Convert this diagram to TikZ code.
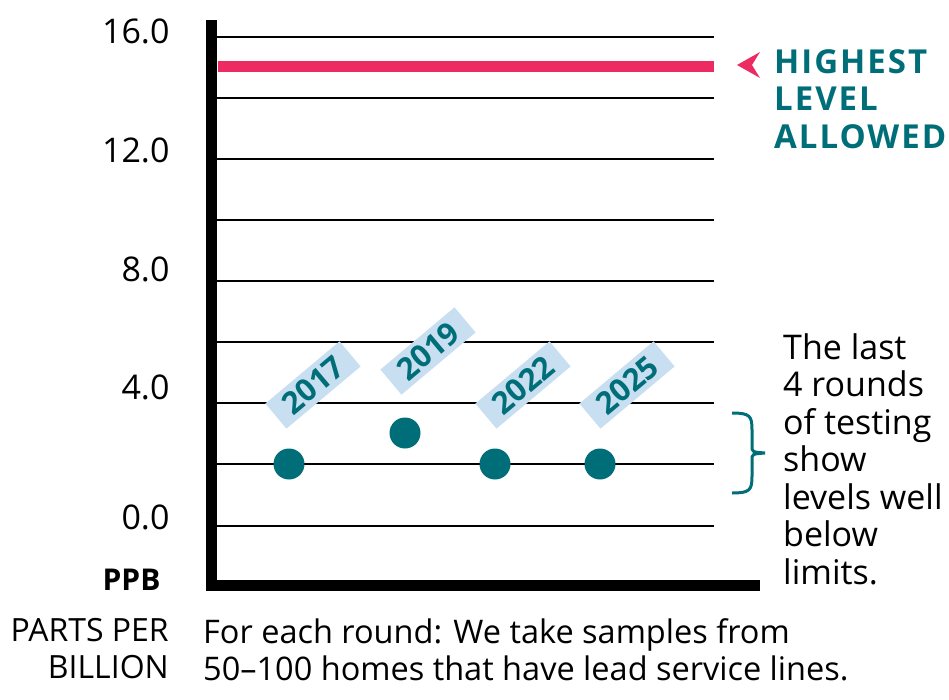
\documentclass[tikz,border=0pt]{standalone}
\usepackage{fontspec}
\setmainfont{Open Sans}
\newfontfamily\spaced[LetterSpace=6]{Open Sans}
\newfontfamily\semib{Open Sans}
\definecolor{teal}{HTML}{006E78}
\definecolor{pinkr}{HTML}{EC2B63}
\definecolor{lblue}{HTML}{C8DEF1}
\begin{document}
\begin{tikzpicture}[x=1pt,y=-1pt,
  grid/.style={line width=2pt},
  tick/.style={font=\fontsize{34}{34}\selectfont,anchor=base east},
  dot/.style={circle,fill=teal,minimum size=31pt,inner sep=0},
  yr/.style={fill=lblue,rotate=40,text=teal,font=\semib\bfseries\fontsize{31}{31}\selectfont,inner xsep=13pt,inner ysep=5pt},
  body/.style={font=\fontsize{34}{37.5}\selectfont,align=left,anchor=north west,inner sep=0}]
\useasboundingbox (0,0) rectangle (949,700);
\foreach \y in {37,98,159,220,281,342,403,464,526} \draw[grid] (211,\y) -- (714,\y);
\draw[line width=11pt,pinkr] (218,67) -- (714,67);
\draw[line width=11pt] (211,20) -- (211,585.5) -- (760,585.5);
\node[tick] (t16) at (173,44) {16.0};
\node[tick] (t12) at (173,163) {12.0};
\node[tick] (t8) at (173,281) {8.0};
\node[tick] (t4) at (173,399) {4.0};
\node[tick] (t0) at (173,529) {0.0};
\node[font=\semib\bfseries\fontsize{30}{30}\selectfont,anchor=base east] (ppb) at (164,590) {PPB};
\node[body,font=\fontsize{32}{37.5}\selectfont,align=right,anchor=north east] (pp) at (169,618) {PARTS PER\\BILLION};
\node[body,font=\fontsize{32.5}{37.5}\selectfont] (note) at (203,618) {For each round: We take samples from\\50–100 homes that have lead service lines.};
\node[yr] (y17) at (313,385) {2017};
\node[yr] (y19) at (428,351) {2019};
\node[yr] (y22) at (523,385) {2022};
\node[yr] (y25) at (627,385) {2025};
\node[dot] (d17) at (289,464) {};
\node[dot] (d19) at (405,433) {};
\node[dot] (d22) at (495,464) {};
\node[dot] (d25) at (600,464) {};
\fill[pinkr] (737,65) -- (760,52) -- (752,65) -- (760,78) -- cycle;
\node[body,text=teal,font=\spaced\bfseries\fontsize{33}{37.5}\selectfont] (hl) at (774,49) {HIGHEST\\LEVEL\\ALLOWED};
\draw[teal,line width=3pt] (732,413) .. controls (750,413) and (752,416) .. (752,430) -- (752,446) .. controls (752,452) .. (765,453) .. controls (752,454) .. (752,460) -- (752,476) .. controls (752,490) and (750,493) .. (732,493);
\node[body] (txt) at (783,333) {The last\\4 rounds\\of testing\\show\\levels well\\below\\limits.};
\end{tikzpicture}
\end{document}
